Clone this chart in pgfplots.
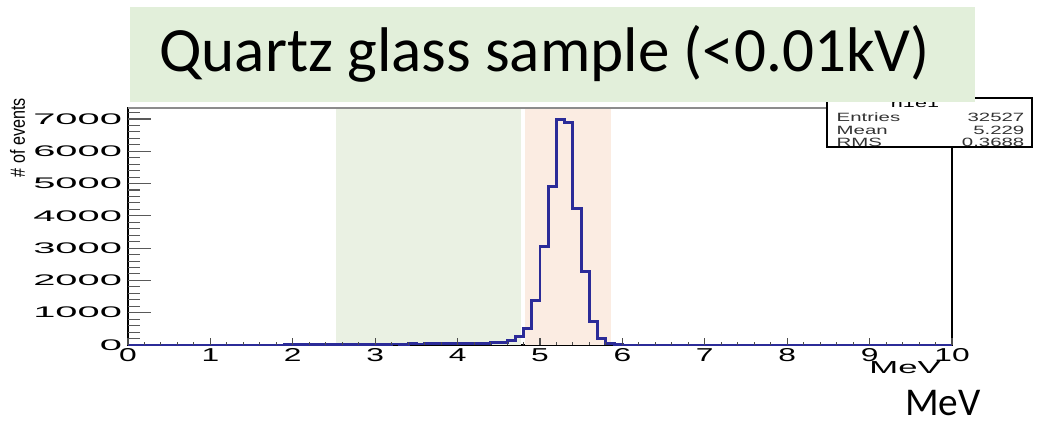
\documentclass[border=0pt]{standalone}
\usepackage{pgfplots}
\pgfplotsset{compat=1.18}
\usepackage{fontspec}
\setmainfont{Carlito}
\newfontfamily\rootfont{Liberation Sans}
\definecolor{titlebg}{HTML}{E2EFDA}
\definecolor{greenshade}{HTML}{EAF1E3}
\definecolor{orangeshade}{HTML}{FBECE2}
\definecolor{histblue}{HTML}{2B2B98}
\pgfplotsset{rootgeom/.style={
  at={(96pt,57pt)}, anchor=south west,
  scale only axis, width=618pt, height=177.75pt,
  xmin=0, xmax=10, ymin=0, ymax=7340,
  /pgf/number format/assume math mode=true,
  /pgf/number format/1000 sep={},
  tick align=inside,
}}
\begin{document}
\begin{tikzpicture}
\useasboundingbox (0,0) rectangle (786.75pt,315.75pt);
\begin{axis}[
  rootgeom,
  clip=false,
  axis line style={black, line width=0.8pt},
  xtick=\empty, ytick={0,1000,...,7000},
  minor y tick num=4,
  ytick pos=left,
  major tick length=17pt, minor tick length=9pt,
  every tick/.style={black!70, line width=0.8pt},
  yticklabel={\scalebox{2.6}[1]{\rootfont\fontsize{11.5}{11.5}\selectfont\pgfmathprintnumber{\tick}}},
  yticklabel style={anchor=east, xshift=-1pt},
]
\fill[greenshade] (axis cs:2.52,0) rectangle (axis cs:4.77,7340);
\fill[orangeshade] (axis cs:4.82,0) rectangle (axis cs:5.86,7340);
\draw[black!45, line width=0.8pt] (axis cs:0,7340) -- (axis cs:10,7340);
\pgfplotsinvokeforeach{1000,2000,3000,4000,5000,6000,7000}{
  \draw[black!65, line width=0.8pt] (axis cs:0,#1) -- ++(17pt,0);}
\pgfplotsinvokeforeach{200,400,600,800,1200,1400,1600,1800,2200,2400,2600,2800,3200,3400,3600,3800,4200,4400,4600,4800,5200,5400,5600,5800,6200,6400,6600,6800,7200}{
  \draw[black!65, line width=0.8pt] (axis cs:0,#1) -- ++(9pt,0);}
\addplot[const plot, histblue, line width=2.2pt] coordinates {
(0,0) (1.9,8) (2.0,10) (2.1,15) (2.2,12) (2.3,18) (2.4,20) (2.5,22) (2.6,20)
(2.7,25) (2.8,22) (2.9,25) (3.0,28) (3.1,25) (3.2,30) (3.3,28) (3.4,32) (3.5,30)
(3.6,35) (3.7,38) (3.8,40) (3.9,42) (4.0,45) (4.1,50) (4.2,55) (4.3,60) (4.4,70)
(4.5,90) (4.6,150) (4.7,260) (4.8,500) (4.9,1380) (5.0,3060) (5.1,4900)
(5.2,6990) (5.3,6900) (5.4,4230) (5.5,2270) (5.6,720) (5.7,200) (5.8,50)
(5.9,10) (6.0,0) (10,0)};
\node[rotate=90, anchor=center] at (rel axis cs:-0.134,0.875) {\scalebox{1.1}[1.4]{\rootfont\fontsize{11}{11}\selectfont\# of events}};
\node[anchor=center] at (rel axis cs:0.943,-0.095) {\scalebox{2.0}[1]{\rootfont\fontsize{13}{13}\selectfont MeV}};
\end{axis}
\begin{axis}[
  rootgeom,
  axis x line*=bottom, axis y line=none,
  axis line style={draw=none},
  xtick={0,1,...,10}, minor x tick num=4,
  major tick length=5pt, minor tick length=2.6pt,
  every tick/.style={black!70, line width=0.8pt},
  xticklabel={\scalebox{1.7}[1]{\rootfont\fontsize{14}{14}\selectfont\pgfmathprintnumber{\tick}}},
  xticklabel style={anchor=north, yshift=1pt},
]
\end{axis}
\begin{scope}[x=0.75pt,y=0.75pt]
% stats box
\fill[white] (827,274) rectangle (1032,323);
\draw[black, line width=0.8pt] (827,274) rectangle (1032,323);
\draw[black, line width=1.6pt] (1032,274) -- (1032,323);
\node[anchor=center] at (915,318) {\scalebox{1.8}[1]{\rootfont\fontsize{9}{9}\selectfont h1e1}};
\node[anchor=west, text=black!80] at (832,304) {\scalebox{1.7}[1]{\rootfont\fontsize{9}{9}\selectfont Entries}};
\node[anchor=east, text=black!80] at (1029,304) {\scalebox{1.7}[1]{\rootfont\fontsize{9}{9}\selectfont 32527}};
\node[anchor=west, text=black!80] at (832,291) {\scalebox{1.7}[1]{\rootfont\fontsize{9}{9}\selectfont Mean}};
\node[anchor=east, text=black!80] at (1029,291) {\scalebox{1.7}[1]{\rootfont\fontsize{9}{9}\selectfont 5.229}};
\node[anchor=west, text=black!80] at (832,279) {\scalebox{1.7}[1]{\rootfont\fontsize{9}{9}\selectfont RMS}};
\node[anchor=east, text=black!80] at (1029,279) {\scalebox{1.7}[1]{\rootfont\fontsize{9}{9}\selectfont 0.3688}};
% title box
\fill[titlebg] (130,319) rectangle (975,414);
\node[anchor=base west, inner sep=0pt] at (159,349) {\fontsize{47.3}{52}\selectfont Quartz glass sample (<0.01kV)};
% bottom MeV
\node[anchor=base west, inner sep=0pt] at (905,6) {\fontsize{29.5}{32}\selectfont MeV};
\end{scope}
\end{tikzpicture}
\end{document}
